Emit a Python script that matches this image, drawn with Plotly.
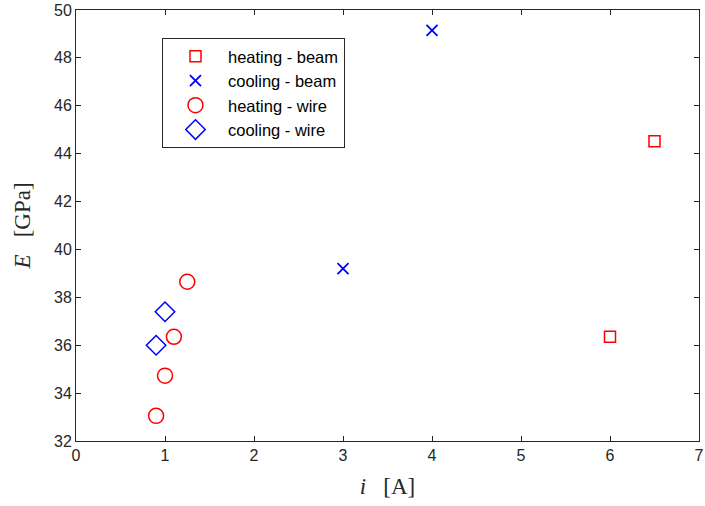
import plotly.graph_objects as go

hb_x = [6.0, 6.5]
hb_y = [36.35, 44.52]
cb_x = [3.0, 4.0]
cb_y = [39.2, 49.15]
hw_x = [0.9, 1.0, 1.1, 1.25]
hw_y = [33.05, 34.73, 36.35, 38.65]
cw_x = [0.9, 1.0]
cw_y = [36.0, 37.4]

red = "#FF0000"
blue = "#0000FF"

fig = go.Figure()
fig.add_trace(go.Scatter(x=hb_x, y=hb_y, mode="markers", name="heating - beam",
                         marker=dict(symbol="square-open", size=11, color=red, line=dict(width=1.5, color=red))))
fig.add_trace(go.Scatter(x=cb_x, y=cb_y, mode="markers", name="cooling - beam",
                         marker=dict(symbol="x-thin-open", size=11, color=blue, line=dict(width=1.8, color=blue))))
fig.add_trace(go.Scatter(x=hw_x, y=hw_y, mode="markers", name="heating - wire",
                         marker=dict(symbol="circle-open", size=15, color=red, line=dict(width=1.5, color=red))))
fig.add_trace(go.Scatter(x=cw_x, y=cw_y, mode="markers", name="cooling - wire",
                         marker=dict(symbol="diamond-open", size=15, color=blue, line=dict(width=1.5, color=blue))))

axcol = "#262626"
common = dict(showgrid=False, zeroline=False, showline=True, linecolor=axcol, linewidth=1,
              mirror="ticks", ticks="inside", ticklen=5, tickcolor=axcol, tickwidth=1,
              automargin=False,
              tickfont=dict(family="Liberation Sans, Arial, sans-serif", size=16, color=axcol))

fig.update_xaxes(range=[0, 7], dtick=1, tick0=0,
                 title=dict(text="<i>i</i>&nbsp;&nbsp;&nbsp;[A]", standoff=14,
                            font=dict(family="Liberation Serif, DejaVu Serif, serif", size=23, color=axcol)),
                 **common)
fig.update_yaxes(range=[32, 50], dtick=2, tick0=32,
                 title=dict(text="<i>E</i>&nbsp;&nbsp;&nbsp;[GPa]", standoff=16,
                            font=dict(family="Liberation Serif, DejaVu Serif, serif", size=23, color=axcol)),
                 **common)

fig.update_layout(
    width=705, height=506,
    margin=dict(l=76, r=6, t=10, b=65, autoexpand=False),
    plot_bgcolor="white", paper_bgcolor="white",
    legend=dict(x=0.138, y=0.935, xanchor="left", yanchor="top",
                bordercolor=axcol, borderwidth=1, bgcolor="white",
                font=dict(family="Liberation Sans, Arial, sans-serif", size=16.5, color="black"),
                itemwidth=55, tracegroupgap=0),
    showlegend=True,
)

fig.write_html("out.html", config={"displayModeBar": False},
               post_script="document.body.style.margin='0';")
